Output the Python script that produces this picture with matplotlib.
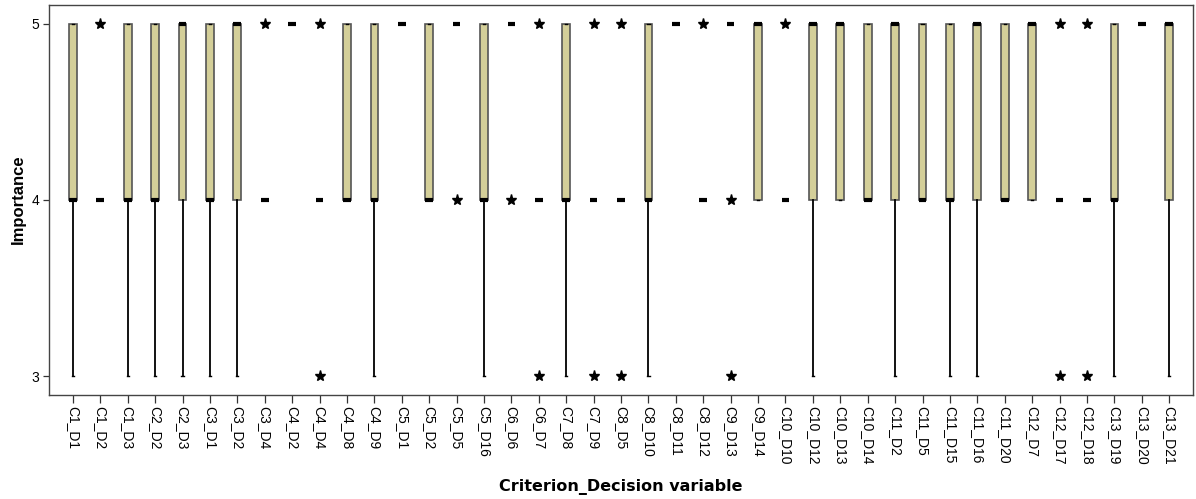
import matplotlib
matplotlib.use('Agg')
import matplotlib.pyplot as plt

labels = ['C1_D1', 'C1_D2', 'C1_D3', 'C2_D2', 'C2_D3', 'C3_D1', 'C3_D2', 'C3_D4',
          'C4_D2', 'C4_D4', 'C4_D8', 'C4_D9', 'C5_D1', 'C5_D2', 'C5_D5', 'C5_D16',
          'C6_D6', 'C6_D7', 'C7_D8', 'C7_D9', 'C8_D5', 'C8_D10', 'C8_D11', 'C8_D12',
          'C9_D13', 'C9_D14', 'C10_D10', 'C10_D12', 'C10_D13', 'C10_D14', 'C11_D2',
          'C11_D5', 'C11_D15', 'C11_D16', 'C11_D20', 'C12_D7', 'C12_D17', 'C12_D18',
          'C13_D19', 'C13_D20', 'C13_D21']

q1 = [4, 4, 4, 4, 4, 4, 4, 4, 5, 4, 4, 4, 5, 4, 5, 4, 5, 4, 4, 4, 4, 4, 5, 4,
      5, 4, 4, 4, 4, 4, 4, 4, 4, 4, 4, 4, 4, 4, 4, 5, 4]
median = [4, 4, 4, 4, 5, 4, 5, 4, 5, 4, 4, 4, 5, 4, 5, 4, 5, 4, 4, 4, 4, 4, 5, 4,
          5, 5, 4, 5, 5, 4, 5, 4, 4, 5, 4, 5, 4, 4, 4, 5, 5]
q3 = [5, 4, 5, 5, 5, 5, 5, 4, 5, 4, 5, 5, 5, 5, 5, 5, 5, 4, 5, 4, 4, 5, 5, 4,
      5, 5, 4, 5, 5, 5, 5, 5, 5, 5, 5, 5, 4, 4, 5, 5, 5]
whisker_low = [3, 4, 3, 3, 3, 3, 3, 4, 5, 4, 4, 3, 5, 4, 5, 3, 5, 4, 3, 4, 4, 3, 5, 4,
               5, 4, 4, 3, 4, 4, 3, 4, 3, 3, 4, 4, 4, 4, 3, 5, 3]
extremes = [[], [5], [], [], [], [], [], [5], [], [5, 3], [], [], [], [], [4], [],
            [4], [5, 3], [], [5, 3], [5, 3], [], [], [5], [4, 3], [], [5], [], [], [],
            [], [], [], [], [], [], [5, 3], [5, 3], [], [], []]

stats = []
for i in range(len(labels)):
    stats.append({'label': labels[i], 'q1': q1[i], 'med': median[i], 'q3': q3[i],
                  'whislo': whisker_low[i], 'whishi': q3[i], 'fliers': extremes[i]})

fig = plt.figure(figsize=(11.96, 4.99), dpi=100)
ax = fig.add_axes([0.041, 0.2084, 0.9565, 0.7816])

ax.bxp(stats, positions=range(len(labels)), widths=0.28, patch_artist=True,
       boxprops=dict(facecolor='#d4cf99', edgecolor='#555555', linewidth=1.2),
       medianprops=dict(color='black', linewidth=3.0, solid_capstyle='butt'),
       whiskerprops=dict(color='black', linewidth=1.3),
       capprops=dict(color='black', linewidth=1.0),
       capwidths=0.08,
       flierprops=dict(marker='*', markersize=8, markerfacecolor='black',
                       markeredgecolor='black', linestyle='none'))

ax.set_xlim(-0.87, len(labels) - 1 + 0.87)
ax.set_ylim(2.892, 5.108)
ax.set_yticks([3, 4, 5])
ax.set_yticklabels(['3', '4', '5'], fontsize=10, family='Liberation Sans')
ax.set_xticks(range(len(labels)))
ax.set_xticklabels(labels, rotation=270, fontsize=10, family='Liberation Sans',
                   va='top', ha='center')
ax.tick_params(axis='x', length=6, width=0.9, color='#333333', pad=2)
ax.tick_params(axis='y', length=4, width=0.9, color='#333333', pad=3)
for sp in ax.spines.values():
    sp.set_color('#444444')
    sp.set_linewidth(1.0)

fig.text(0.015, 0.6, 'Importance', rotation=90, ha='center', va='center',
         fontsize=12, fontweight='bold', family='Liberation Sans')
fig.text(0.519, 0.024, 'Criterion_Decision variable', ha='center', va='center',
         fontsize=11.5, fontweight='bold', family='DejaVu Sans')

fig.savefig('out.png', dpi=100)
